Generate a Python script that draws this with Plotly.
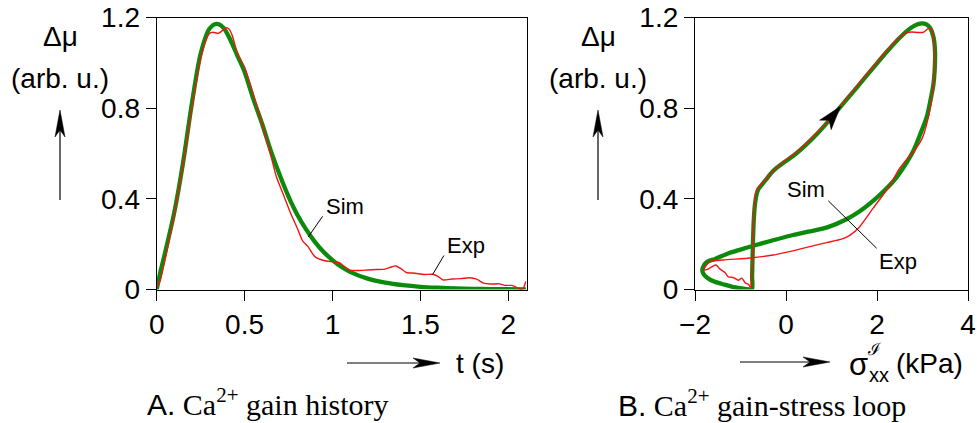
import math
import plotly.graph_objects as go

W, H = 977, 423

# ---- Panel A: Ca2+ gain history (t in s, delta-mu in arb. u.) ----
t_sim = [0, 0.025, 0.05, 0.1, 0.15, 0.2, 0.25, 0.3, 0.34, 0.38, 0.42, 0.46, 0.5,
         0.55, 0.6, 0.65, 0.7, 0.75, 0.8, 0.85, 0.9, 0.95, 1.0, 1.05, 1.1, 1.2,
         1.3, 1.4, 1.5, 1.6, 1.7, 1.8, 1.9, 2.0, 2.1]
mu_sim_t = [0.0, 0.09, 0.17, 0.34, 0.56, 0.82, 1.04, 1.15, 1.172, 1.155, 1.10,
            1.03, 0.96, 0.84, 0.73, 0.61, 0.505, 0.41, 0.33, 0.265, 0.21, 0.165,
            0.13, 0.10, 0.078, 0.048, 0.030, 0.019, 0.012, 0.008, 0.005, 0.003,
            0.002, 0.001, 0.0]

t_exp = [0, 0.02, 0.05, 0.1, 0.15, 0.2, 0.25, 0.28, 0.3, 0.32, 0.35, 0.37, 0.39,
         0.41, 0.43, 0.46, 0.5, 0.55, 0.6, 0.65, 0.68, 0.72, 0.76, 0.8, 0.83,
         0.86, 0.9, 0.95, 1.0, 1.04, 1.07, 1.1, 1.15, 1.2, 1.25, 1.3, 1.33, 1.36,
         1.39, 1.42, 1.47, 1.52, 1.57, 1.6, 1.63, 1.68, 1.73, 1.78, 1.82, 1.86,
         1.9, 1.95, 1.98, 2.02, 2.05, 2.07, 2.085, 2.1]
mu_exp_t = [0.01, 0.04, 0.14, 0.33, 0.55, 0.80, 1.02, 1.10, 1.13, 1.135, 1.13,
            1.14, 1.155, 1.15, 1.12, 1.04, 0.98, 0.86, 0.73, 0.59, 0.50, 0.42,
            0.34, 0.27, 0.215, 0.19, 0.145, 0.128, 0.122, 0.118, 0.10, 0.085,
            0.084, 0.086, 0.088, 0.090, 0.098, 0.104, 0.092, 0.075, 0.072, 0.066,
            0.067, 0.058, 0.042, 0.046, 0.048, 0.052, 0.046, 0.028, 0.024, 0.025,
            0.018, 0.018, 0.008, 0.0, 0.005, 0.035]

# ---- Panel B: Ca2+ gain-stress loop (sigma_xx in kPa, delta-mu) ----
sig_sim = [-0.75, -0.745, -0.73, -0.71, -0.68, -0.64, -0.608, -0.50, -0.40,
           -0.279, -0.05, 0.161, 0.42, 0.674, 0.93, 1.187, 1.55, 1.92, 2.22,
           2.505, 2.75, 2.945, 3.08, 3.165, 3.24, 3.275, 3.27, 3.24, 3.17, 3.09,
           2.95, 2.80, 2.62, 2.43, 2.18, 1.92, 1.62, 1.33, 0.89, 0.49, 0.09,
           -0.32, -0.72, -1.02, -1.30, -1.56, -1.74, -1.82, -1.84, -1.81, -1.74,
           -1.58, -1.38, -1.18, -1.01, -0.86, -0.75]
mu_sim_s = [0.0, 0.06, 0.18, 0.30, 0.38, 0.425, 0.443, 0.47, 0.495, 0.524, 0.56,
            0.59, 0.635, 0.685, 0.742, 0.803, 0.89, 0.979, 1.05, 1.112, 1.155,
            1.173, 1.17, 1.155, 1.115, 1.053, 0.98, 0.905, 0.83, 0.759, 0.685,
            0.612, 0.55, 0.495, 0.44, 0.392, 0.345, 0.31, 0.273, 0.255, 0.237,
            0.215, 0.193, 0.175, 0.157, 0.135, 0.121, 0.10, 0.085, 0.068, 0.053,
            0.035, 0.023, 0.012, 0.006, 0.002, 0.0]

sig_exp = [-0.76, -0.74, -0.72, -0.70, -0.67, -0.62, -0.50, -0.38, -0.28, -0.05,
           0.16, 0.42, 0.67, 0.93, 1.19, 1.55, 1.92, 2.2, 2.45, 2.62, 2.75, 2.9,
           3.02, 3.1, 3.17, 3.22, 3.25, 3.26, 3.23, 3.14, 3.0, 2.85, 2.7, 2.5,
           2.25, 1.92, 1.59, 1.41, 1.22, 0.89, 0.30, -0.28, -0.79, -1.38, -1.67,
           -1.78, -1.80, -1.74, -1.63, -1.54, -1.45, -1.34, -1.27, -1.16, -1.05,
           -0.97, -0.90, -0.82, -0.77]
mu_exp_s = [0.01, 0.12, 0.26, 0.36, 0.42, 0.445, 0.475, 0.50, 0.524, 0.565, 0.595,
            0.64, 0.69, 0.745, 0.808, 0.895, 0.985, 1.05, 1.105, 1.13, 1.136,
            1.134, 1.135, 1.148, 1.155, 1.14, 1.09, 1.0, 0.88, 0.77, 0.67, 0.62,
            0.585, 0.535, 0.45, 0.36, 0.27, 0.24, 0.222, 0.207, 0.178, 0.152,
            0.139, 0.130, 0.123, 0.099, 0.087, 0.088, 0.10, 0.108, 0.09, 0.075,
            0.056, 0.053, 0.041, 0.05, 0.03, 0.022, 0.005]

y_ticks = [0, 0.4, 0.8, 1.2]
y_ticktext = ["0", "0.4", "0.8", "1.2"]
xa_ticks = [0, 0.5, 1, 1.5, 2]
xa_ticktext = ["0", "0.5", "1", "1.5", "2"]
xb_ticks = [-2, 0, 2, 4]
xb_ticktext = ["\u22122", "0", "2", "4"]

GREEN = "#0b8a0b"
RED = "#f21515"
SANS = "Liberation Sans, Arial, Helvetica, sans-serif"
SERIF = "Liberation Serif, Times New Roman, serif"

# plot-area geometry in pixels
XA_PX = (156.7, 526.7)
XB_PX = (695.0, 968.0)
Y_PX = (17.5, 289.5)          # top, bottom
XA_RANGE = (0, 2.105)
XB_RANGE = (-2, 4)
Y_RANGE = (0, 1.2)


def dom_x(px):
    return [px[0] / W, px[1] / W]


def paper(px, py):
    return px / W, 1 - py / H


def b_to_px(s, v):
    x = XB_PX[0] + (s - XB_RANGE[0]) / (XB_RANGE[1] - XB_RANGE[0]) * (XB_PX[1] - XB_PX[0])
    y = Y_PX[1] - (v - Y_RANGE[0]) / (Y_RANGE[1] - Y_RANGE[0]) * (Y_PX[1] - Y_PX[0])
    return x, y


def stealth(tail, tip, length, half_w, notch):
    """Filled stealth arrowhead as an SVG path in paper units (input in px)."""
    dx, dy = tip[0] - tail[0], tip[1] - tail[1]
    n = math.hypot(dx, dy)
    ux, uy = dx / n, dy / n
    nx, ny = -uy, ux
    bx, by = tip[0] - ux * length, tip[1] - uy * length
    pts = [tip,
           (bx + nx * half_w, by + ny * half_w),
           (tip[0] - ux * (length - notch), tip[1] - uy * (length - notch)),
           (bx - nx * half_w, by - ny * half_w)]
    return "M " + " L ".join(f"{x / W:.5f},{1 - y / H:.5f}" for x, y in pts) + " Z"


fig = go.Figure()

fig.add_trace(go.Scatter(x=t_sim, y=mu_sim_t, mode="lines", line=dict(color=GREEN, width=4.3, shape="spline", smoothing=0.8),
                         xaxis="x", yaxis="y", hoverinfo="skip"))
fig.add_trace(go.Scatter(x=t_exp, y=mu_exp_t, mode="lines", line=dict(color=RED, width=1.4, shape="spline", smoothing=0.6),
                         xaxis="x", yaxis="y", hoverinfo="skip"))
fig.add_trace(go.Scatter(x=sig_sim, y=mu_sim_s, mode="lines", line=dict(color=GREEN, width=4.3, shape="spline", smoothing=0.8),
                         xaxis="x2", yaxis="y2", hoverinfo="skip"))
fig.add_trace(go.Scatter(x=sig_exp, y=mu_exp_s, mode="lines", line=dict(color=RED, width=1.4, shape="spline", smoothing=0.6),
                         xaxis="x2", yaxis="y2", hoverinfo="skip"))

axis_common = dict(showline=True, linecolor="black", linewidth=1.2, mirror=True,
                   ticks="outside", ticklen=10, tickwidth=1.2, tickcolor="black",
                   showgrid=False, zeroline=False, fixedrange=True, automargin=False,
                   tickfont=dict(family=SANS, size=28, color="black"))

fig.update_layout(
    width=W, height=H, margin=dict(l=0, r=0, t=0, b=0, pad=0, autoexpand=False),
    paper_bgcolor="white", plot_bgcolor="white", showlegend=False,
    xaxis=dict(domain=dom_x(XA_PX), range=list(XA_RANGE), tickvals=xa_ticks, ticktext=xa_ticktext,
               anchor="y", **axis_common),
    yaxis=dict(domain=[1 - Y_PX[1] / H, 1 - Y_PX[0] / H], range=list(Y_RANGE), tickvals=y_ticks,
               ticktext=y_ticktext, anchor="x", **axis_common),
    xaxis2=dict(domain=dom_x(XB_PX), range=list(XB_RANGE), tickvals=xb_ticks, ticktext=xb_ticktext,
                anchor="y2", **axis_common),
    yaxis2=dict(domain=[1 - Y_PX[1] / H, 1 - Y_PX[0] / H], range=list(Y_RANGE), tickvals=y_ticks,
                ticktext=y_ticktext, anchor="x2", **axis_common),
)

ann = []
shapes = []


def text_px(txt, px, py, size, family=SANS, **kw):
    x, y = paper(px, py)
    ann.append(dict(text=txt, x=x, y=y, xref="paper", yref="paper", showarrow=False,
                    xanchor=kw.pop("xanchor", "center"), yanchor=kw.pop("yanchor", "middle"),
                    font=dict(family=family, size=size, color="black"), **kw))


def arrow_px(tail, tip, length=27, half_w=5, notch=7, width=1.2):
    x0, y0 = paper(*tail)
    ux, uy = tip[0] - tail[0], tip[1] - tail[1]
    n = math.hypot(ux, uy)
    end = (tip[0] - ux / n * (length - notch), tip[1] - uy / n * (length - notch))
    x1, y1 = paper(*end)
    shapes.append(dict(type="line", xref="paper", yref="paper", x0=x0, y0=y0, x1=x1, y1=y1,
                       line=dict(color="black", width=width)))
    shapes.append(dict(type="path", xref="paper", yref="paper", path=stealth(tail, tip, length, half_w, notch),
                       fillcolor="black", line=dict(color="black", width=0.5)))


# y-axis labels with upward arrows
for cx in (60, 598):
    text_px("\u0394\u03bc", cx, 36, 28)
    text_px("(arb. u.)", cx, 78, 28)
    arrow_px((cx, 200), (cx, 110))

# x-axis labels with rightward arrows
arrow_px((347, 363), (440, 363))
text_px("t (s)", 480, 363, 28)

arrow_px((740, 362), (830, 362))
text_px("\u03c3", 858, 364, 31)
text_px("\u2110", 874, 349, 17, family="DejaVu Serif")
text_px("xx", 879, 375, 20)
text_px("(kPa)", 929, 363, 28)

# curve labels with leader lines
ann.append(dict(text="Sim", x=1.071, y=0.366, xref="x", yref="y", showarrow=False,
                font=dict(family=SANS, size=22, color="black")))
ann.append(dict(text="Exp", x=1.759, y=0.194, xref="x", yref="y", showarrow=False,
                font=dict(family=SANS, size=22, color="black")))
shapes.append(dict(type="line", xref="x", yref="y", x0=0.944, y0=0.323, x1=0.862, y1=0.232,
                   line=dict(color="black", width=1)))
shapes.append(dict(type="line", xref="x", yref="y", x0=1.634, y0=0.150, x1=1.570, y1=0.066,
                   line=dict(color="black", width=1)))

ann.append(dict(text="Sim", x=0.435, y=0.439, xref="x2", yref="y2", showarrow=False,
                font=dict(family=SANS, size=22, color="black")))
ann.append(dict(text="Exp", x=2.46, y=0.123, xref="x2", yref="y2", showarrow=False,
                font=dict(family=SANS, size=22, color="black")))
shapes.append(dict(type="line", xref="x2", yref="y2", x0=0.93, y0=0.391, x1=1.993, y1=0.182,
                   line=dict(color="black", width=1)))

# direction arrow on the loop
tip = b_to_px(1.20, 0.808)
tail = b_to_px(0.93, 0.742)
shapes.append(dict(type="path", xref="paper", yref="paper", path=stealth(tail, tip, 24, 7.5, 6),
                   fillcolor="black", line=dict(color="black", width=0.5)))

# panel captions
cap_a = f'<span style="font-family:{SANS}">A.</span> Ca<sup>2+</sup> gain history'
cap_b = f'<span style="font-family:{SANS}">B.</span> Ca<sup>2+</sup> gain-stress loop'
text_px(cap_a, 268, 402, 30, family=SERIF)
text_px(cap_b, 762, 403, 30, family=SERIF)

fig.update_layout(annotations=ann, shapes=shapes)
fig.write_html("out.html")
